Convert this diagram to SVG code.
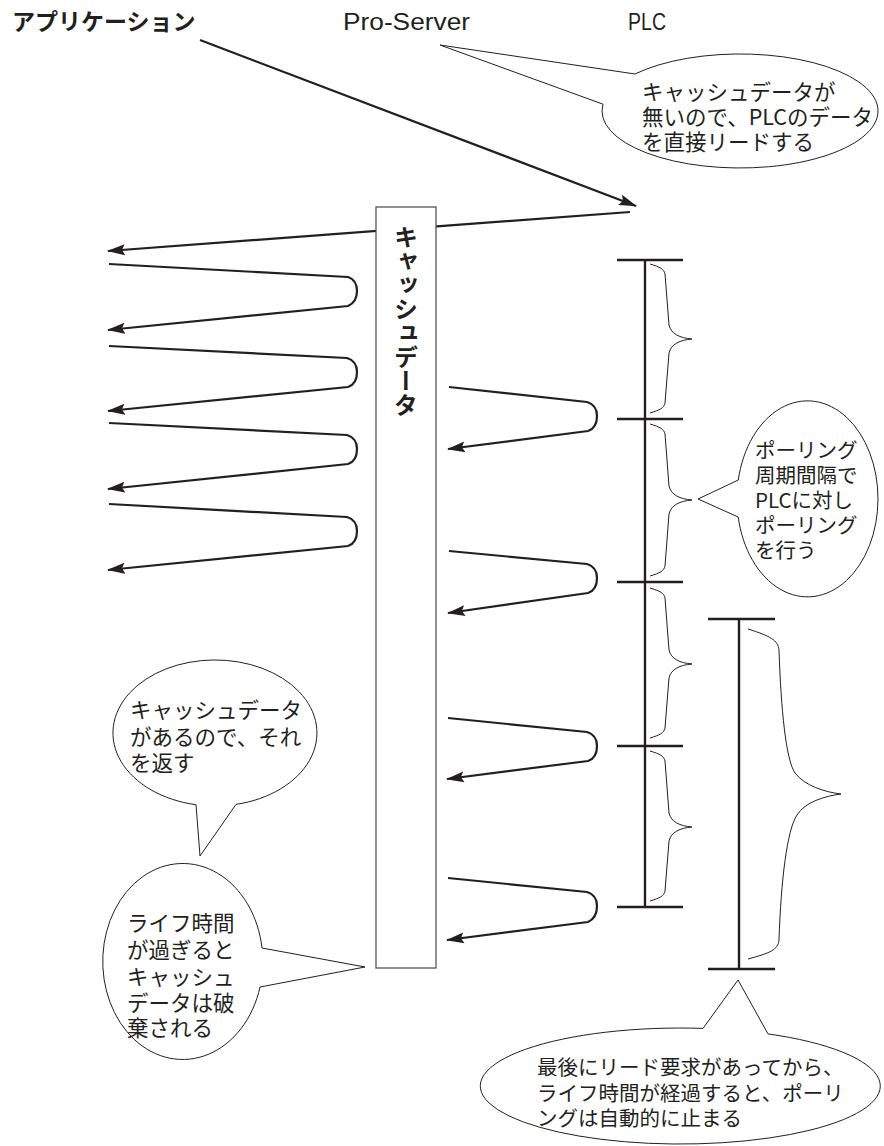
<svg xmlns="http://www.w3.org/2000/svg" width="884" height="1146" viewBox="0 0 884 1146">
<style>
.jp{font-family:"Noto Sans CJK JP","Noto Sans",sans-serif;fill:#231f20}
.b1{font-size:21.5px}
.b2{font-size:20.5px}
.conn{fill:none;stroke:#231f20;stroke-width:2.2;stroke-linejoin:round}
.bub{fill:#fff;stroke:#231f20;stroke-width:1}
.tl{fill:none;stroke:#231f20;stroke-width:2.4}
.brace{fill:none;stroke:#231f20;stroke-width:1}
</style>
<defs>
<marker id="ah" markerUnits="userSpaceOnUse" markerWidth="20" markerHeight="12" refX="17" refY="6" orient="auto">
<path d="M0,0.5 L18,6 L0,11.5 L3,6 z" fill="#231f20"/>
</marker>
</defs>
<rect width="884" height="1146" fill="#fff"/>

<g id="headers">
<text id="title-app" class="jp" x="12" y="30" font-size="23" font-weight="bold">アプリケーション</text>
<text id="title-proserver" x="343" y="30" font-family="Liberation Sans, sans-serif" font-size="23" fill="#231f20" textLength="127" lengthAdjust="spacingAndGlyphs">Pro-Server</text>
<text id="title-plc" x="628" y="30" font-family="Liberation Sans, sans-serif" font-size="23" fill="#231f20" textLength="38" lengthAdjust="spacingAndGlyphs">PLC</text>
</g>

<g id="connectors">
<line class="conn" x1="200" y1="40" x2="636" y2="206" marker-end="url(#ah)"/>
<line class="conn" x1="630" y1="212" x2="108" y2="251" marker-end="url(#ah)"/>
<path class="conn" d="M109,264 L348,277 Q357,280 357,291 Q357,302 348,306 L108,330" marker-end="url(#ah)"/>
<path class="conn" d="M109,346 L347,358 Q357,361 357,372 Q357,384 348,387 L108,411" marker-end="url(#ah)"/>
<path class="conn" d="M109,423 L347,435 Q357,438 357,449 Q357,461 348,464 L108,489" marker-end="url(#ah)"/>
<path class="conn" d="M109,504 L347,517 Q357,520 357,531 Q357,543 348,546 L108,570" marker-end="url(#ah)"/>
<path class="conn" d="M449,387 L587,402 Q597,405 597,416 Q597,428 588,431 L448,449" marker-end="url(#ah)"/>
<path class="conn" d="M449,551 L587,564 Q597,567 597,578 Q597,590 588,593 L448,613" marker-end="url(#ah)"/>
<path class="conn" d="M448,718 L587,732 Q597,735 597,746 Q597,758 588,761 L447,779" marker-end="url(#ah)"/>
<path class="conn" d="M448,878 L587,892 Q597,895 597,906 Q597,918 588,922 L447,940" marker-end="url(#ah)"/>
</g>

<g id="cache-box">
<rect x="376" y="207" width="60" height="761" fill="#fff" stroke="#555" stroke-width="1.3"/>
<text class="jp" x="406" y="225" font-size="24" font-weight="bold" style="writing-mode:vertical-rl;text-orientation:upright">キャッシュデータ</text>
</g>

<g id="timeline-polling">
<line class="tl" x1="645" y1="260" x2="645" y2="907"/>
<line class="tl" x1="617" y1="260" x2="683" y2="260"/>
<line class="tl" x1="617" y1="419" x2="683" y2="419"/>
<line class="tl" x1="617" y1="582" x2="683" y2="582"/>
<line class="tl" x1="617" y1="746" x2="683" y2="746"/>
<line class="tl" x1="617" y1="907" x2="683" y2="907"/>
<path class="brace" d="M650,264 C660,267 664,269 665,274 L669,325 C671,334 680,338 692,339 C680,340 671,344 669,353 L665,403 C664,408 660,410 650,413"/>
<path class="brace" d="M650,424 C660,427 664,429 665,434 L669,486 C671,495 680,499 692,500 C680,501 671,505 669,514 L665,566 C664,571 660,573 650,576"/>
<path class="brace" d="M650,588 C660,591 664,593 665,598 L669,650 C671,659 680,663 692,664 C680,665 671,669 669,678 L665,728 C664,733 660,735 650,738"/>
<path class="brace" d="M650,751 C660,754 664,756 665,761 L669,813 C671,822 680,826 692,827 C680,828 671,832 669,841 L665,891 C664,896 660,898 650,901"/>
</g>

<g id="timeline-life">
<line class="tl" x1="739" y1="619" x2="739" y2="969"/>
<line class="tl" x1="708" y1="619" x2="775" y2="619"/>
<line class="tl" x1="708" y1="969" x2="775" y2="969"/>
<path class="brace" d="M748,629 C770,636 778,640 779,650 C781,710 786,760 795,773 C805,786 825,792 841,794 C825,796 805,802 797,815 C787,830 781,880 779,940 C778,950 770,953 748,959"/>
</g>

<g id="bubble-nocache">
<path class="bub" d="M635,74 L440,45 L603,104.2 A138,57 0 1 0 635,74 Z"/>
<text class="jp b1"><tspan x="642" y="100">キャッシュデータが</tspan><tspan x="642" y="125">無いので、PLCのデータ</tspan><tspan x="642" y="150">を直接リードする</tspan></text>
</g>

<g id="bubble-hascache">
<path class="bub" d="M196,804.7 L200,856 L236,804.4 A102,73 0 1 0 196,804.7 Z"/>
<text class="jp b1"><tspan x="130" y="718">キャッシュデータ</tspan><tspan x="130" y="745">があるので、それ</tspan><tspan x="130" y="771">を返す</tspan></text>
</g>

<g id="bubble-lifetime">
<path class="bub" d="M262,948 L365,967 L260,987 A80,98 0 1 1 262,948 Z"/>
<text class="jp b1"><tspan x="127" y="931">ライフ時間</tspan><tspan x="127" y="958">が過ぎると</tspan><tspan x="127" y="985">キャッシュ</tspan><tspan x="127" y="1011">データは破</tspan><tspan x="127" y="1036">棄される</tspan></text>
</g>

<g id="bubble-polling">
<path class="bub" d="M738.3,480 L698,499 L738.2,517 A70.5,98 0 1 0 738.3,480 Z"/>
<text class="jp b2"><tspan x="755" y="458">ポーリング</tspan><tspan x="755" y="483">周期間隔で</tspan><tspan x="755" y="508">PLCに対し</tspan><tspan x="755" y="533">ポーリング</tspan><tspan x="755" y="558">を行う</tspan></text>
</g>

<g id="bubble-stop">
<path class="bub" d="M703,1028.4 L738,980 L768,1033.9 A200,58 0 1 1 703,1028.4 Z"/>
<text class="jp b2"><tspan x="537" y="1075">最後にリード要求があってから、</tspan><tspan x="537" y="1101">ライフ時間が経過すると、ポーリ</tspan><tspan x="537" y="1126">ングは自動的に止まる</tspan></text>
</g>
</svg>
